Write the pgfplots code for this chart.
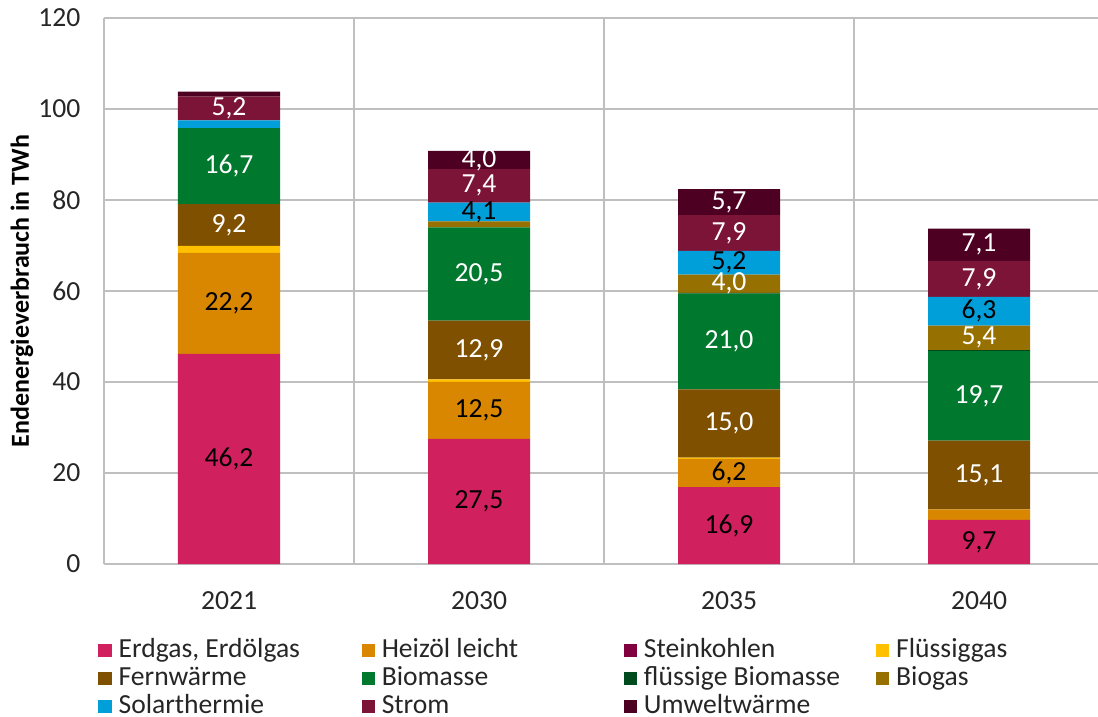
\documentclass[border=0pt]{standalone}
\usepackage{fontspec}
\setmainfont{Carlito}
\usepackage{pgfplots}
\pgfplotsset{compat=1.18}
\usepackage{pgfplotstable}

\definecolor{cErdgas}{RGB}{208,32,94}
\definecolor{cHeizoel}{RGB}{217,135,0}
\definecolor{cStein}{RGB}{128,0,64}
\definecolor{cFluessig}{RGB}{255,192,0}
\definecolor{cFern}{RGB}{127,80,0}
\definecolor{cBiomasse}{RGB}{0,120,45}
\definecolor{cFlBio}{RGB}{0,75,30}
\definecolor{cBiogas}{RGB}{150,112,0}
\definecolor{cSolar}{RGB}{0,159,218}
\definecolor{cStrom}{RGB}{124,20,56}
\definecolor{cUmwelt}{RGB}{77,0,34}
\definecolor{cGrid}{RGB}{191,191,191}
\definecolor{cText}{RGB}{38,38,38}

\pgfplotstableread{
x Erdgas Heizoel Steinkohlen Fluessiggas Fernwaerme Biomasse flBiomasse Biogas Solar Strom Umwelt
0 46.2 22.2 0 1.5 9.2 16.7 0 0 1.7 5.2 1.1
1 27.5 12.5 0 0.6 12.9 20.5 0 1.3 4.1 7.4 4.0
2 16.9 6.2 0 0.3 15.0 21.0 0.2 4.0 5.2 7.9 5.7
3 9.7 2.3 0 0 15.1 19.7 0.2 5.4 6.3 7.9 7.1
}\data

\newcommand{\ser}[5]{%
  \addplot[fill=#2, draw=none,
    visualization depends on={\thisrow{#1} \as \val},
    every node near coord/.append style={text=#3}]
    table[x=x,y=#1]{\data};
  \addlegendentry{\makebox[#5][l]{#4}}%
}

\begin{document}
\fontsize{13.8}{15.6}\selectfont
\begin{tikzpicture}
\begin{axis}[
  scale only axis, width=497pt, height=273pt,
  ybar stacked, bar width=51pt,
  xmin=-0.5, xmax=3.476, ymin=0, ymax=120,
  xtick={0,1,2,3}, xticklabels={2021,2030,2035,2040},
  minor xtick={-0.5,0.5,1.5,2.5},
  ytick={0,20,...,120},
  ymajorgrids, xminorgrids,
  grid style={draw=cGrid, line width=0.8pt},
  minor grid style={draw=cGrid, line width=0.8pt},
  major tick length=0pt, minor tick length=0pt,
  axis x line*=bottom, axis y line*=left,
  axis line style={draw=cGrid, line width=0.8pt},
  /pgf/number format/assume math mode=true,
  tick label style={text=cText},
  xticklabel style={yshift=-9pt},
  yticklabel style={xshift=-7pt},
  every axis y label/.style={at={(axis description cs:-0.0825,0.5)}, rotate=90, anchor=center, text=black, font=\fontsize{13}{15.6}\selectfont\bfseries},
  ylabel={Endenergieverbrauch in TWh},
  nodes near coords={\pgfmathparse{\val<3?0:1}\ifnum\pgfmathresult=1 \pgfmathprintnumber[fixed,fixed zerofill,precision=1,use comma,assume math mode=true]{\val}\fi},
  every node near coord/.append style={anchor=center},
  legend style={at={(0,-0.11)}, anchor=north west, xshift=-6pt, yshift=-3pt, draw=none, fill=none,
    legend columns=4, text=cText, font=\fontsize{13.8}{14}\selectfont, row sep=-1.6pt,
    /tikz/every even column/.append style={column sep=3pt},
    /tikz/every odd column/.append style={column sep=1.5pt}},
  legend cell align=left,
  legend image code/.code={\fill[#1] (0pt,-3.3pt) rectangle (6.6pt,3.3pt);},
]
\ser{Erdgas}{cErdgas}{black}{Erdgas, Erdölgas}{116.5pt}
\ser{Heizoel}{cHeizoel}{black}{Heizöl leicht}{116pt}
\ser{Steinkohlen}{cStein}{white}{Steinkohlen}{111pt}
\ser{Fluessiggas}{cFluessig}{black}{Flüssiggas}{60pt}
\ser{Fernwaerme}{cFern}{white}{Fernwärme}{116.5pt}
\ser{Biomasse}{cBiomasse}{white}{Biomasse}{116pt}
\ser{flBiomasse}{cFlBio}{white}{flüssige Biomasse}{111pt}
\ser{Biogas}{cBiogas}{white}{Biogas}{60pt}
\ser{Solar}{cSolar}{black}{Solarthermie}{116.5pt}
\ser{Strom}{cStrom}{white}{Strom}{116pt}
\ser{Umwelt}{cUmwelt}{white}{Umweltwärme}{111pt}
\coordinate (BL) at (rel axis cs:0,0);
\coordinate (TR) at (rel axis cs:1,1);
\end{axis}
\pgfresetboundingbox
\path[use as bounding box] ([xshift=-52pt,yshift=-76.5pt]BL) rectangle ([yshift=9pt]TR);
\end{tikzpicture}
\end{document}
